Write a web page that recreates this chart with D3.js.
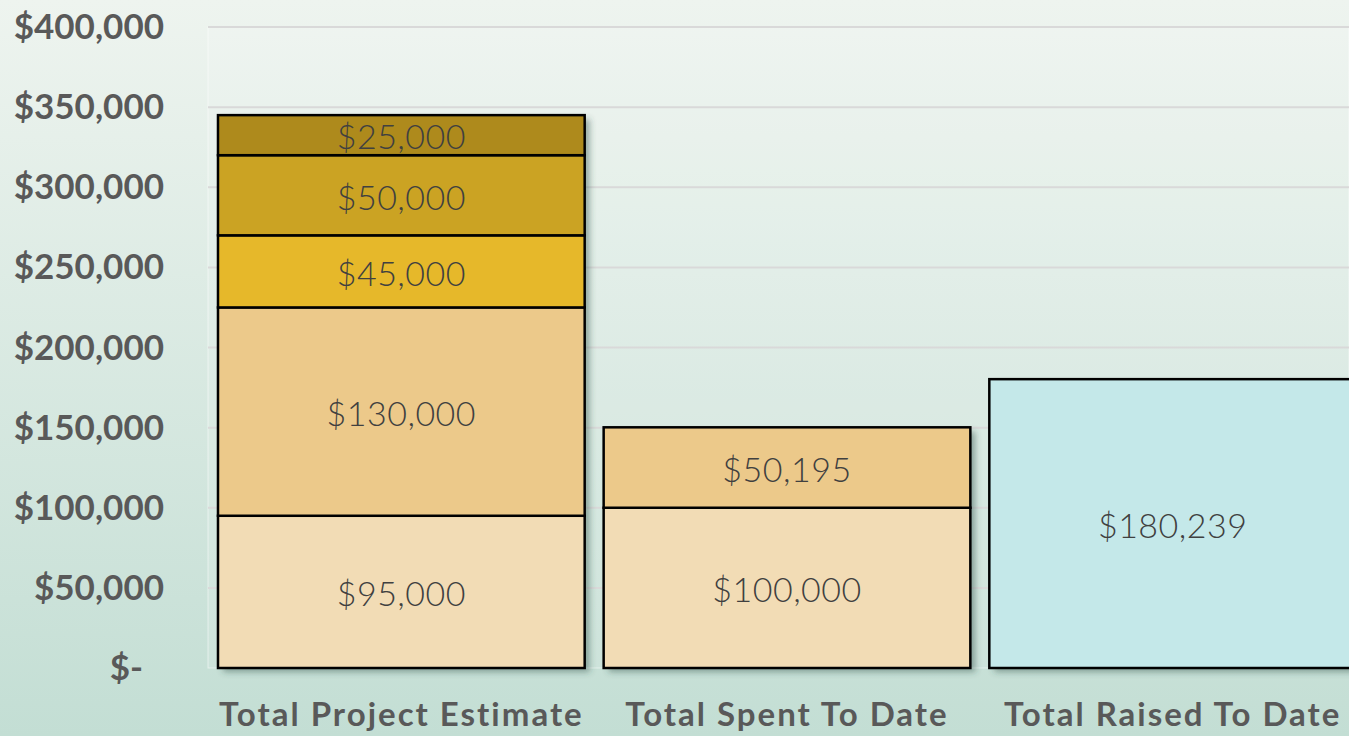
<!DOCTYPE html>
<html>
<head>
<meta charset="utf-8">
<script src="https://cdn.jsdelivr.net/npm/d3@7"></script>
<style>
  html, body { margin: 0; padding: 0; overflow: hidden; }
  body { width: 1349px; height: 736px; background: linear-gradient(#eef4ef, #c3ded4); }
</style>
</head>
<body>
<div id="chart"></div>
<script>
const categories = ["Total Project Estimate", "Total Spent To Date", "Total Raised To Date"];
const layers = ["l1", "l2", "l3", "l4", "l5"];
const layerColors = ["#f2dcb5", "#ecc98a", "#e6b82a", "#cba323", "#ae8a1c"];
const raisedColor = "#c4e8e9";
// values per layer, one entry per category
const estimateValues = [95000, 130000, 45000, 50000, 25000];
const spentValues = [100000, 50195, 0, 0, 0];
const raisedValues = [180239];
const yTicks = [0, 50000, 100000, 150000, 200000, 250000, 300000, 350000, 400000];

const W = 1349, H = 736;
const margin = { top: 27, right: 0, bottom: 68, left: 208 };
const height = H - margin.top - margin.bottom;

const svg = d3.select("#chart")
  .append("svg")
  .attr("width", W)
  .attr("height", H);

const defs = svg.append("defs");
defs.append("filter")
  .attr("id", "shadow")
  .attr("x", "-10%").attr("y", "-10%").attr("width", "130%").attr("height", "130%")
  .append("feDropShadow")
  .attr("dx", 5).attr("dy", 4)
  .attr("stdDeviation", 3)
  .attr("flood-color", "#2f4f45")
  .attr("flood-opacity", 0.45);

const x = d3.scaleBand()
  .domain(categories)
  .range([margin.left, margin.left + 1158])
  .paddingInner(0.0492)
  .paddingOuter(0.0259);

const y = d3.scaleLinear()
  .domain([0, 400000])
  .range([margin.top + height, margin.top]);

// plot area
svg.append("rect")
  .attr("x", margin.left)
  .attr("y", margin.top)
  .attr("width", W - margin.left)
  .attr("height", height)
  .attr("fill", "#ffffff")
  .attr("fill-opacity", 0.12)
  .attr("stroke", "#ffffff")
  .attr("stroke-opacity", 0.5);

// gridlines
svg.append("g")
  .selectAll("line")
  .data(yTicks.filter(d => d > 0))
  .join("line")
  .attr("x1", margin.left)
  .attr("x2", W)
  .attr("y1", d => y(d))
  .attr("y2", d => y(d))
  .attr("stroke", "#d9d9d9")
  .attr("stroke-width", 2);

// y axis labels
const yAxis = svg.append("g")
  .attr("transform", `translate(164,0)`)
  .call(d3.axisLeft(y).tickValues(yTicks).tickSize(0).tickPadding(0)
    .tickFormat(d => d === 0 ? "$-" : d3.format("$,")(d)));
yAxis.select(".domain").remove();
yAxis.selectAll("text")
  .attr("dy", "0.33em")
  .attr("dx", d => d === 0 ? -21 : 0)
  .style("font-family", "Lato, sans-serif")
  .style("font-weight", 700)
  .style("font-size", "35px")
  .style("fill", "#595959");

// stacked data
const rows = [estimateValues, spentValues].map((vals, i) => {
  const o = { cat: categories[i] };
  layers.forEach((k, j) => o[k] = vals[j]);
  return o;
});
const series = d3.stack().keys(layers)(rows);

const segs = [];
series.forEach((s, j) => {
  s.forEach(d => {
    if (d[1] - d[0] > 0) segs.push({ cat: d.data.cat, y0: d[0], y1: d[1], v: d[1] - d[0], color: layerColors[j] });
  });
});
raisedValues.forEach(v => segs.push({ cat: categories[2], y0: 0, y1: v, v: v, color: raisedColor }));

// bar shadows (one per column)
const totals = d3.rollup(segs, g => d3.max(g, d => d.y1), d => d.cat);
svg.append("g")
  .selectAll("rect")
  .data(Array.from(totals))
  .join("rect")
  .attr("x", d => x(d[0]))
  .attr("y", d => y(d[1]))
  .attr("width", x.bandwidth())
  .attr("height", d => y(0) - y(d[1]))
  .attr("fill", "#c8c8c8")
  .attr("filter", "url(#shadow)");

svg.append("g")
  .selectAll("rect")
  .data(segs)
  .join("rect")
  .attr("x", d => x(d.cat))
  .attr("y", d => y(d.y1))
  .attr("width", x.bandwidth())
  .attr("height", d => y(d.y0) - y(d.y1))
  .attr("fill", d => d.color)
  .attr("stroke", "#000")
  .attr("stroke-width", 2.5);

// baseline
svg.append("line")
  .attr("x1", margin.left + 6)
  .attr("x2", W)
  .attr("y1", y(0))
  .attr("y2", y(0))
  .attr("stroke", "#c9c9c9")
  .attr("stroke-width", 3)
  .attr("filter", "url(#shadow)");

// value labels
svg.append("g")
  .selectAll("text")
  .data(segs)
  .join("text")
  .attr("x", d => x(d.cat) + x.bandwidth() / 2)
  .attr("y", d => y((d.y0 + d.y1) / 2))
  .attr("dy", "0.42em")
  .attr("text-anchor", "middle")
  .style("font-family", "Lato, sans-serif")
  .style("font-weight", 300)
  .style("font-size", "34px")
  .style("letter-spacing", "0.5px")
  .style("fill", "#404040")
  .text(d => d3.format("$,")(d.v));

// category labels
svg.append("g")
  .selectAll("text")
  .data(categories)
  .join("text")
  .attr("x", d => x(d) + x.bandwidth() / 2)
  .attr("y", 714)
  .attr("dy", "0.35em")
  .attr("text-anchor", "middle")
  .style("font-family", "Lato, sans-serif")
  .style("font-weight", 700)
  .style("font-size", "33px")
  .style("letter-spacing", "2px")
  .style("fill", "#595959")
  .text(d => d);
</script>
</body>
</html>
